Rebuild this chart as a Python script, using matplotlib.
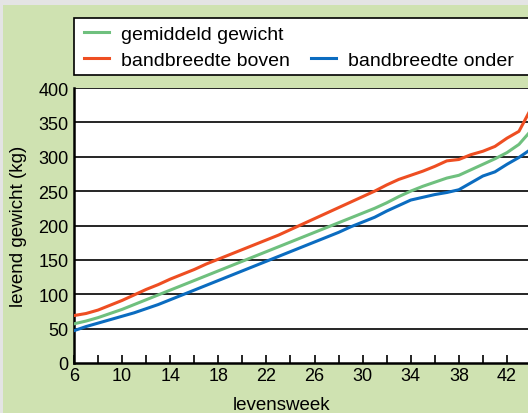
import matplotlib.pyplot as plt
from matplotlib.lines import Line2D
from matplotlib.patches import Rectangle

plt.rcParams['font.family'] = ['Liberation Sans', 'DejaVu Sans']

weeks = list(range(6, 45))
gemiddeld = [57, 61, 66, 72, 78, 85, 92, 99, 106, 113,
             120, 127, 134, 141, 148, 155, 162, 169, 176, 183,
             190, 197, 204, 211, 218, 225, 233, 242, 250, 257,
             263, 269, 273, 281, 289, 297, 306, 318, 338]
boven = [69, 72, 77, 84, 91, 99, 107, 114, 122, 129,
         136, 144, 151, 158, 165, 172, 179, 186, 194, 202,
         210, 218, 226, 234, 242, 250, 259, 267, 273, 279,
         286, 294, 296, 303, 308, 315, 327, 337, 370]
onder = [47, 53, 58, 63, 68, 73, 79, 85, 92, 99,
         106, 113, 120, 127, 134, 141, 148, 155, 162, 169,
         176, 183, 190, 198, 205, 212, 221, 229, 237, 241,
         245, 248, 252, 262, 272, 278, 289, 299, 311]

c_green = '#6fc07e'
c_red = '#ee4e22'
c_blue = '#0b6cc0'
c_bg = '#cfe2b1'

fig = plt.figure(figsize=(5.28, 4.14), dpi=100, facecolor='#e4e4e4')
# groene achtergrond + wit legendakader
fig.patches.append(Rectangle((3 / 528, 0), 1, 408 / 414, transform=fig.transFigure,
                             facecolor=c_bg, edgecolor='none', zorder=-10))
fig.patches.append(Rectangle((74 / 528, (414 - 76) / 414), 0.9, 57 / 414,
                             transform=fig.transFigure, facecolor='white',
                             edgecolor='black', linewidth=1.2, zorder=-5))

ax = fig.add_axes([74 / 528, (414 - 364) / 414, 1 - 74 / 528, 275 / 414])
ax.set_facecolor('white')

ax.plot(weeks, gemiddeld, color=c_green, lw=2.2, zorder=3)
ax.plot(weeks, boven, color=c_red, lw=2.2, zorder=3)
ax.plot(weeks, onder, color=c_blue, lw=2.2, zorder=3)

ax.set_xlim(6, 43.75)
ax.set_ylim(0, 400)
ax.set_yticks(range(0, 401, 50))
ax.set_xticks(range(6, 43, 4))
ax.set_xticks(range(8, 43, 4), minor=True)
ax.tick_params(axis='x', which='both', direction='in', length=6, width=1.2,
               labelsize=13, pad=3)
ax.tick_params(axis='y', length=0, labelsize=13, pad=4)
for y in range(50, 401, 50):
    ax.axhline(y, color='black', lw=1.2, zorder=1)
for s in ['top', 'right']:
    ax.spines[s].set_visible(False)
ax.spines['left'].set_linewidth(1.8)
ax.spines['bottom'].set_linewidth(1.8)

fig.text(282 / 528, 1 - 406 / 414, 'levensweek', ha='center', va='center', fontsize=13.5)
fig.text(19 / 528, 1 - 226 / 414, 'levend gewicht (kg)', ha='center', va='center',
         rotation=90, fontsize=13.5)

handles = [Line2D([], [], color=c_green, lw=2.2),
           Line2D([], [], color=c_red, lw=2.2),
           Line2D([], [], color='none'),
           Line2D([], [], color=c_blue, lw=2.2)]
labels = ['gemiddeld gewicht', 'bandbreedte boven', '', 'bandbreedte onder']
fig.legend(handles, labels, loc='upper left', ncol=2, frameon=False,
           bbox_to_anchor=(84 / 528, 1 - 26 / 414), fontsize=14,
           handlelength=1.3, handletextpad=0.6, columnspacing=1.1,
           labelspacing=0.45, borderpad=0, borderaxespad=0)

fig.savefig('out.png', dpi=100, facecolor=fig.get_facecolor())
